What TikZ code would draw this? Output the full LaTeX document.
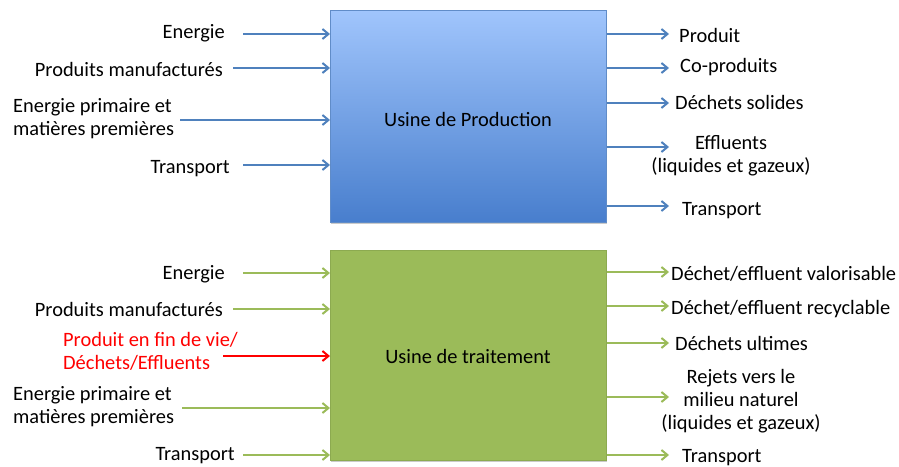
\documentclass[tikz,border=0pt]{standalone}
\usepackage{fontspec}
\setmainfont{Carlito}
\usetikzlibrary{arrows.meta,shadows}

\definecolor{flowblue}{RGB}{79,129,189}
\definecolor{flowgreen}{RGB}{155,187,89}
\definecolor{boxtop}{RGB}{160,197,252}
\definecolor{boxbottom}{RGB}{72,126,205}
\definecolor{boxblueline}{RGB}{96,140,200}
\definecolor{boxgreenline}{RGB}{140,170,80}

\tikzset{
  lbl/.style={font=\fontsize{20.4}{23}\selectfont, inner sep=0pt, text=black},
  plant/.style={anchor=north west, minimum width=276pt, inner sep=0pt,
    line width=0.8pt,
    drop shadow={shadow xshift=1pt, shadow yshift=-2pt, opacity=0.35, fill=black!60}},
  tip/.style={-{Straight Barb[length=6pt,width=10pt,line width=2pt]}},
  bflow/.style={tip, draw=flowblue, line width=2.5pt},
  gflow/.style={tip, draw=flowgreen, line width=2.5pt},
  rflow/.style={tip, draw=red, line width=2.5pt},
}

\begin{document}
\begin{tikzpicture}[x=1pt,y=-1pt]
\useasboundingbox (0,0) rectangle (899,466);

% ---------- production plant ----------
\node[plant, minimum height=212pt, draw=boxblueline,
      top color=boxtop, bottom color=boxbottom] (prod) at (330,10) {};
\node[lbl, anchor=base] (prodname) at (468,126) {Usine de Production};

% inputs
\node[lbl, anchor=base east] (pi1) at (225,38) {Energie};
\node[lbl, anchor=base east] (pi2) at (223,76) {Produits manufacturés};
\node[lbl, anchor=west, align=left] (pi3) at (13,119) {Energie primaire et\\matières premières};
\node[lbl, anchor=base east] (pi4) at (230,173) {Transport};

\coordinate (pa1) at (243,34);
\coordinate (pa2) at (233,68);
\coordinate (pa3) at (180,120);
\coordinate (pa4) at (243,165);
\foreach \c in {pa1,pa2,pa3,pa4}
  \draw[bflow] (\c) -- (\c -| prod.west);

% outputs
\node[lbl, anchor=base west] (po1) at (679,42) {Produit};
\node[lbl, anchor=base west] (po2) at (680,72) {Co-produits};
\node[lbl, anchor=base west] (po3) at (675,109) {Déchets solides};
\node[lbl, anchor=center, align=center] (po4) at (731,155.5) {Effluents\\(liquides et gazeux)};
\node[lbl, anchor=base west] (po5) at (682,215) {Transport};

\coordinate (pb1) at (669,34);
\coordinate (pb2) at (669,68);
\coordinate (pb3) at (669,103);
\coordinate (pb4) at (669,147);
\coordinate (pb5) at (669,206);
\foreach \c in {pb1,pb2,pb3,pb4,pb5}
  \draw[bflow] (\c -| prod.east) -- (\c);

% ---------- treatment plant ----------
\node[plant, minimum height=210pt, draw=boxgreenline, fill=flowgreen] (treat) at (330,250) {};
\node[lbl, anchor=base] (treatname) at (468,363) {Usine de traitement};

% inputs
\node[lbl, anchor=base east] (ti1) at (225,279) {Energie};
\node[lbl, anchor=base east] (ti2) at (223,316) {Produits manufacturés};
\node[lbl, anchor=west, align=left, text=red] (ti3) at (63,351.5) {Produit en fin de vie/\\Déchets/Effluents};
\node[lbl, anchor=west, align=left] (ti4) at (13,407) {Energie primaire et\\matières premières};
\node[lbl, anchor=base east] (ti5) at (235,460) {Transport};

\coordinate (ta1) at (243,273);
\coordinate (ta2) at (233,309);
\coordinate (ta3) at (223,356);
\coordinate (ta4) at (182,408);
\coordinate (ta5) at (243,455);
\foreach \c in {ta1,ta2,ta4,ta5}
  \draw[gflow] (\c) -- (\c -| treat.west);
\draw[rflow] (ta3) -- (ta3 -| treat.west);

% outputs
\node[lbl, anchor=base west] (to1) at (671,280) {Déchet/effluent valorisable};
\node[lbl, anchor=base west] (to2) at (671,314) {Déchet/effluent recyclable};
\node[lbl, anchor=base west] (to3) at (675,350) {Déchets ultimes};
\node[lbl, anchor=center, align=center] (to4) at (741,401) {Rejets vers le\\milieu naturel\\(liquides et gazeux)};
\node[lbl, anchor=base west] (to5) at (682,462) {Transport};

\coordinate (tb1) at (669,272);
\coordinate (tb2) at (669,306);
\coordinate (tb3) at (669,343);
\coordinate (tb4) at (669,397);
\coordinate (tb5) at (669,455);
\foreach \c in {tb1,tb2,tb3,tb4,tb5}
  \draw[gflow] (\c -| treat.east) -- (\c);
\end{tikzpicture}
\end{document}
